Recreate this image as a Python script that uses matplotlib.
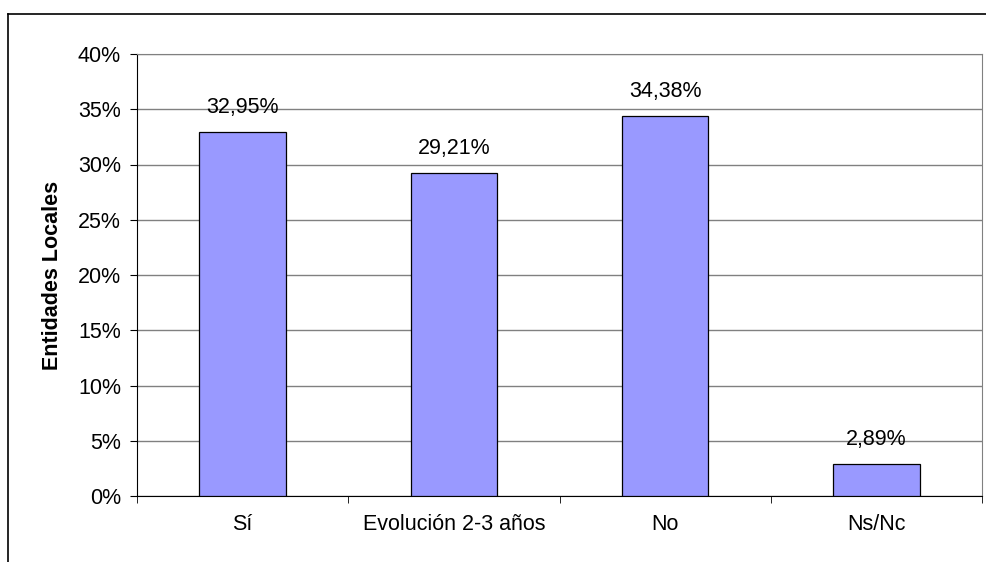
import matplotlib
matplotlib.use("Agg")
import matplotlib.pyplot as plt
from matplotlib.ticker import MultipleLocator, FuncFormatter

plt.rcParams['font.family'] = ['Liberation Sans', 'DejaVu Sans']

categorias = ["Sí", "Evolución 2-3 años", "No", "Ns/Nc"]
valores = [32.95, 29.21, 34.38, 2.89]
etiquetas = ["32,95%", "29,21%", "34,38%", "2,89%"]

fs = 15.5

fig = plt.figure(figsize=(9.86, 5.62), dpi=100)
ax = fig.add_axes([137/986, 1 - 496/562, (982-137)/986, (496-54)/562])

x = range(len(categorias))
bars = ax.bar(x, valores, width=0.41, color="#9999FF", edgecolor="black", linewidth=0.9, zorder=3)

for b, t in zip(bars, etiquetas):
    ax.annotate(t, (b.get_x() + b.get_width()/2, b.get_height()), xytext=(0, 10),
                textcoords="offset points", ha="center", va="bottom", fontsize=fs)

ax.set_xlim(-0.5, len(categorias) - 0.5)
ax.set_ylim(0, 40)
ax.yaxis.set_major_locator(MultipleLocator(5))
ax.yaxis.set_major_formatter(FuncFormatter(lambda v, p: "%d%%" % v))
ax.grid(axis="y", color="#808080", linewidth=1, zorder=0)

ax.set_xticks(list(x))
ax.set_xticklabels(categorias, fontsize=fs)
ax.tick_params(axis="x", length=0, pad=13)
ax.set_xticks([i - 0.5 for i in range(len(categorias) + 1)], minor=True)
ax.tick_params(axis="x", which="minor", length=5, direction="out", color="black")
ax.tick_params(axis="y", length=5, direction="out", labelsize=fs, pad=6.5)

ax.spines["left"].set_color("black")
ax.spines["bottom"].set_color("black")
ax.spines["top"].set_color("#808080")
ax.spines["right"].set_color("#808080")

ax.set_ylabel("Entidades Locales", fontsize=fs, fontweight="bold", labelpad=11)

# marco exterior (recortado en la imagen original)
fig.add_artist(plt.Line2D([8/986, 8/986], [0, 1 - 14/562], color="black", linewidth=1.2))
fig.add_artist(plt.Line2D([8/986, 1], [1 - 14/562, 1 - 14/562], color="black", linewidth=1.2))

fig.savefig("out.png", dpi=100)
